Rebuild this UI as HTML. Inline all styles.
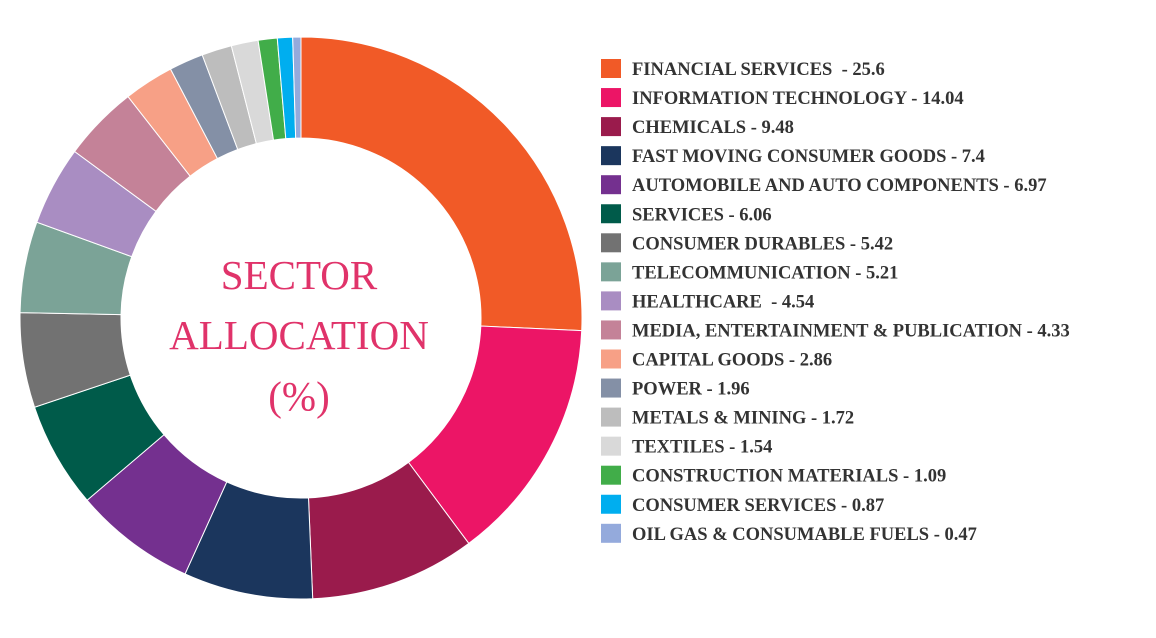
<!DOCTYPE html>
<html><head><meta charset="utf-8"><style>
body{margin:0;background:#fff;width:1156px;height:633px;overflow:hidden}
svg text{font-family:"Liberation Serif",serif}
</style></head><body>
<svg id="chart" width="1156" height="633" xmlns="http://www.w3.org/2000/svg">
<g id="slices"></g>
<g fill="#e0336a" font-size="41" text-anchor="middle">
<text x="299" y="289">SECTOR</text>
<text x="299" y="349">ALLOCATION</text>
<text x="299" y="410">(%)</text>
</g>
<g id="legend"></g>
</svg>
<script>
const categories=["FINANCIAL SERVICES ","INFORMATION TECHNOLOGY","CHEMICALS","FAST MOVING CONSUMER GOODS","AUTOMOBILE AND AUTO COMPONENTS","SERVICES","CONSUMER DURABLES","TELECOMMUNICATION","HEALTHCARE ","MEDIA, ENTERTAINMENT & PUBLICATION","CAPITAL GOODS","POWER","METALS & MINING","TEXTILES","CONSTRUCTION MATERIALS","CONSUMER SERVICES","OIL GAS & CONSUMABLE FUELS"];
const values=[25.6,14.04,9.48,7.4,6.97,6.06,5.42,5.21,4.54,4.33,2.86,1.96,1.72,1.54,1.09,0.87,0.47];
const labels=["25.6","14.04","9.48","7.4","6.97","6.06","5.42","5.21","4.54","4.33","2.86","1.96","1.72","1.54","1.09","0.87","0.47"];
const colors=["#f15a27","#ec1566","#9a1b4c","#1b365d","#74308f","#005b4a","#727272","#7ba397","#a98dc2","#c48298","#f7a086","#8490a6","#bdbdbd","#d9d9d9","#41ad49","#00aeef","#94aadc"];
const NS="http://www.w3.org/2000/svg";
const cx=301,cy=318,R=281,r=180;
const total=values.reduce((a,b)=>a+b,0);
function angle(v){return v/total*2*Math.PI;}
function pt(rad,a){return [cx+rad*Math.sin(a),cy-rad*Math.cos(a)];}
const g=document.getElementById('slices');
let a0=0;
values.forEach((v,i)=>{
  const a1=a0+angle(v);
  const large=(a1-a0)>Math.PI?1:0;
  const [x0,y0]=pt(R,a0),[x1,y1]=pt(R,a1),[x2,y2]=pt(r,a1),[x3,y3]=pt(r,a0);
  const p=document.createElementNS(NS,'path');
  p.setAttribute('d',`M${x0},${y0}A${R},${R} 0 ${large} 1 ${x1},${y1}L${x2},${y2}A${r},${r} 0 ${large} 0 ${x3},${y3}Z`);
  p.setAttribute('fill',colors[i]);
  p.setAttribute('stroke','#fff');
  p.setAttribute('stroke-width','1');
  
  
  g.appendChild(p);
  a0=a1;
});
const lg=document.getElementById('legend');
categories.forEach((c,i)=>{
  const y=68+i*29.05;
  const s=document.createElementNS(NS,'rect');
  s.setAttribute('x',601);s.setAttribute('y',y-9);s.setAttribute('width',20);s.setAttribute('height',19);
  s.setAttribute('fill',colors[i]);
  
  
  lg.appendChild(s);
  const t=document.createElementNS(NS,'text');
  t.setAttribute('x',632);t.setAttribute('y',y+7);
  t.setAttribute('font-size','18.5');t.setAttribute('font-weight','bold');t.setAttribute('fill','#333');
  t.setAttribute('xml:space','preserve');t.style.whiteSpace='pre';
  t.textContent=c+' - '+labels[i];
  
  
  lg.appendChild(t);
});
</script>
</body></html>
